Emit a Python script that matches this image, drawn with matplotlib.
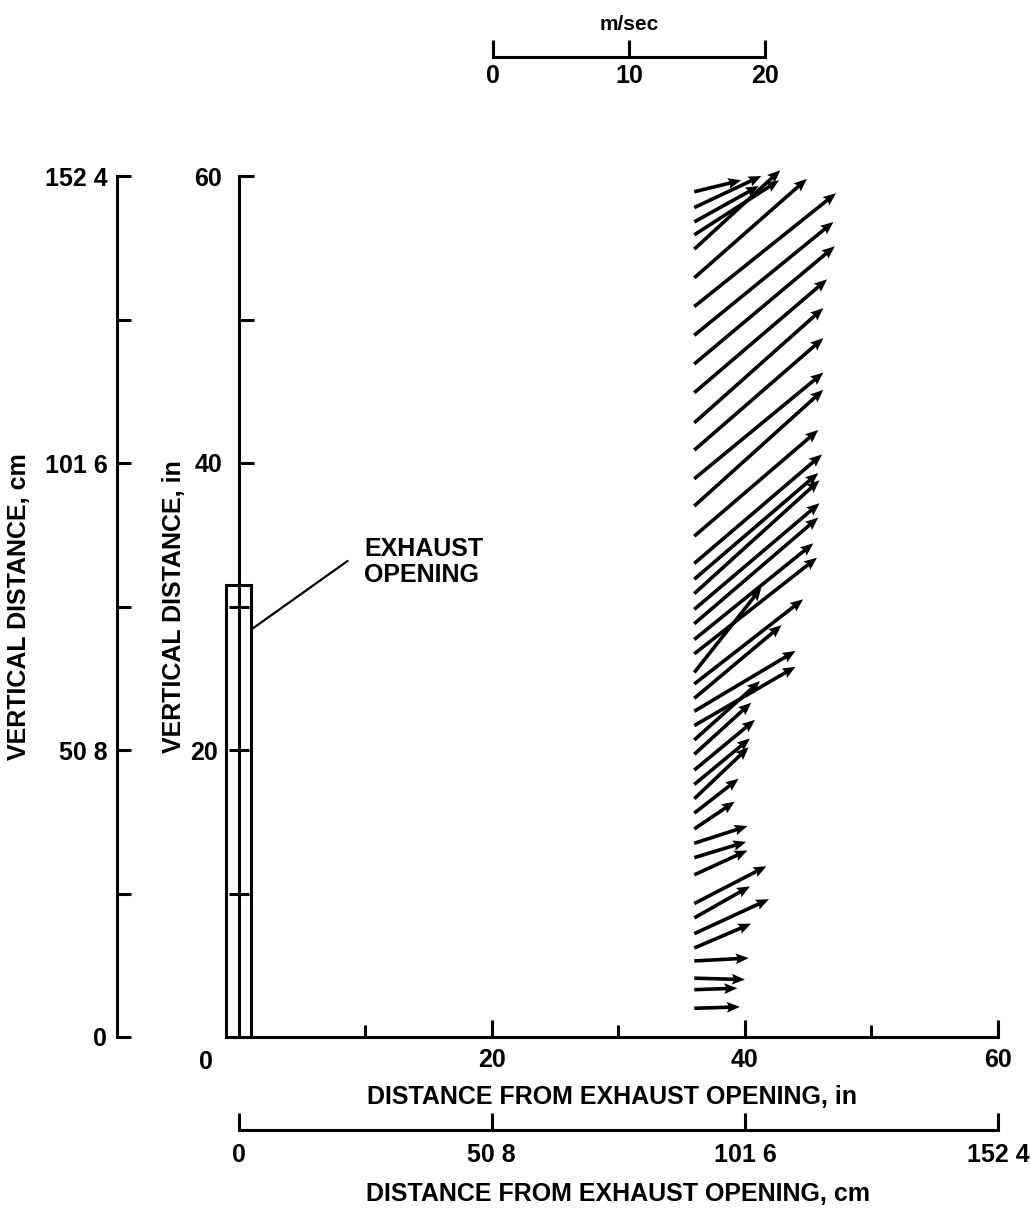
import matplotlib
matplotlib.use("Agg")
import matplotlib.pyplot as plt
from matplotlib.patches import Rectangle

# figure size in pixels (dpi 100)
W, H = 1030, 1219

# velocity vectors: tails sit on the measuring line at x = 36 in,
# heads read off the picture (inches on the plot scales)
tail_x = 36.0
tail_y = [58.9, 57.8, 56.8, 55.9, 54.9, 52.9, 50.9, 48.9, 46.9, 44.9,
          42.8, 40.9, 38.9, 37.0, 34.9, 33.0, 31.9, 30.9, 29.8, 28.8,
          27.7, 26.7, 25.4, 24.6, 23.6, 22.7, 21.7, 20.7, 19.7, 18.6,
          17.6, 16.6, 15.6, 14.5, 13.5, 12.5, 11.3, 9.3, 8.3, 7.2,
          6.2, 5.3, 4.1, 3.3, 2.0]
head_x = [39.7, 41.3, 41.1, 42.7, 42.8, 44.9, 47.2, 47.0, 47.1, 46.5,
          46.2, 46.2, 46.2, 46.2, 45.8, 46.1, 45.8, 45.9, 45.9, 45.8,
          45.4, 45.7, 41.3, 44.6, 42.9, 44.0, 44.0, 41.2, 40.5, 40.8,
          40.4, 40.3, 39.5, 39.2, 40.2, 40.1, 40.2, 41.7, 40.4, 41.9,
          40.5, 40.3, 40.0, 39.4, 39.6]
head_y = [59.7, 60.0, 59.3, 59.7, 60.4, 59.8, 58.8, 56.8, 55.1, 52.8,
          50.8, 48.7, 46.3, 45.1, 42.3, 40.6, 39.3, 38.8, 37.2, 36.2,
          34.4, 33.4, 31.3, 30.5, 28.7, 26.9, 25.8, 24.8, 23.3, 22.1,
          20.8, 20.2, 18.0, 16.4, 14.7, 13.6, 13.0, 11.9, 10.5, 9.6,
          7.9, 5.5, 4.0, 3.4, 2.1]

# exhaust opening outline (inches)
opening_x = [-1.0, 1.0]
opening_top = 31.5

# axis ticks
in_major_y = [40, 50, 60]
in_major_y_labels = ["40", "", "60"]
in_minor_y = [10, 20, 30]
in_minor_y_labels = ["", "20", ""]
in_major_x = [20, 40, 60]
in_minor_x = [10, 30, 50]
cm_ticks = [0, 25.4, 50.8, 76.2, 101.6, 127.0, 152.4]
cm_labels = ["0", "", "50 8", "", "101 6", "", "152 4"]
cm_x_ticks = [0, 50.8, 101.6, 152.4]
cm_x_labels = ["0", "50 8", "101 6", "152 4"]
speed_ticks = [0, 10, 20]

LW = 2.2
FS = 18

plt.rcParams["font.family"] = ["Liberation Sans", "DejaVu Sans"]
plt.rcParams["font.weight"] = "bold"
plt.rcParams["axes.labelweight"] = "bold"
plt.rcParams["axes.titleweight"] = "bold"
plt.rcParams["font.size"] = FS

fig = plt.figure(figsize=(W / 100, H / 100), dpi=100)


def frac(px_left, px_top, px_right, px_bottom):
    return [px_left / W, 1 - px_bottom / H, (px_right - px_left) / W, (px_bottom - px_top) / H]


# ---- main plot (inches) ----
ax = fig.add_axes(frac(226, 176, 998, 1037))
ax.set_xlim(-1, 60)
ax.set_ylim(0, 60)
ax.patch.set_visible(False)
for side in ("top", "right"):
    ax.spines[side].set_visible(False)
ax.spines["left"].set_position(("data", 0))
for side in ("left", "bottom"):
    ax.spines[side].set_linewidth(LW)

ax.set_yticks(in_major_y)
ax.set_yticklabels(in_major_y_labels)
ax.set_yticks(in_minor_y, minor=True)
ax.set_yticklabels(in_minor_y_labels, minor=True)
ax.tick_params(axis="y", which="major", direction="in", length=11, width=LW, pad=12)
ax.tick_params(axis="y", which="minor", direction="inout", length=14, width=LW, pad=8,
               labelsize=FS)

ax.set_xticks(in_major_x)
ax.set_xticks(in_minor_x, minor=True)
ax.tick_params(axis="x", which="major", direction="in", length=12, width=LW, pad=8)
ax.tick_params(axis="x", which="minor", direction="in", length=9, width=LW)
ax.text(-2.6, -0.9, "0", ha="center", va="top", fontsize=FS)

ax.set_xlabel("DISTANCE FROM EXHAUST OPENING, in", fontsize=FS, labelpad=9)
ax.set_ylabel("VERTICAL DISTANCE, in", fontsize=FS, labelpad=3)

ax.add_patch(Rectangle((opening_x[0], 0), opening_x[1] - opening_x[0], opening_top,
                       fill=False, lw=LW, clip_on=False))
ax.annotate("EXHAUST\nOPENING", xy=(opening_x[1], 28.4), xytext=(9.9, 33.1),
            ha="left", va="center", fontsize=FS, linespacing=1.15,
            arrowprops=dict(arrowstyle="-", lw=1.6, shrinkA=12, shrinkB=0,
                            relpos=(0, 0.75)))

u = [hx - tail_x for hx in head_x]
v = [hy - ty for hy, ty in zip(head_y, tail_y)]
ax.quiver([tail_x] * len(tail_y), tail_y, u, v, angles="xy", scale_units="xy", scale=1,
          units="dots", width=3.6, headwidth=3.0, headlength=3.6, headaxislength=3.2,
          color="black", clip_on=False, zorder=3)

# ---- outer vertical scale (cm) ----
ax_cm = fig.add_axes(frac(117, 176, 160, 1037))
ax_cm.set_ylim(0, 152.4)
ax_cm.patch.set_visible(False)
for side in ("top", "right", "bottom"):
    ax_cm.spines[side].set_visible(False)
ax_cm.spines["left"].set_linewidth(LW)
ax_cm.set_xticks([])
ax_cm.set_yticks(cm_ticks)
ax_cm.set_yticklabels(cm_labels)
ax_cm.tick_params(axis="y", direction="in", length=10, width=LW, pad=7)
ax_cm.set_ylabel("VERTICAL DISTANCE, cm", fontsize=FS, labelpad=10)

# ---- lower horizontal scale (cm) ----
ax_cx = fig.add_axes(frac(238.7, 1120, 998, 1130))
ax_cx.set_xlim(0, 152.4)
ax_cx.patch.set_visible(False)
for side in ("top", "right", "left"):
    ax_cx.spines[side].set_visible(False)
ax_cx.spines["bottom"].set_linewidth(LW)
ax_cx.set_yticks([])
ax_cx.set_xticks(cm_x_ticks)
ax_cx.set_xticklabels(cm_x_labels)
ax_cx.tick_params(axis="x", direction="in", length=12, width=LW, pad=9)
ax_cx.set_xlabel("DISTANCE FROM EXHAUST OPENING, cm", fontsize=FS, labelpad=11)

# ---- velocity scale bar ----
ax_v = fig.add_axes(frac(493, 47, 765, 57))
ax_v.set_xlim(0, 20)
ax_v.patch.set_visible(False)
for side in ("top", "right", "left"):
    ax_v.spines[side].set_visible(False)
ax_v.spines["bottom"].set_linewidth(LW)
ax_v.set_yticks([])
ax_v.set_xticks(speed_ticks)
ax_v.tick_params(axis="x", direction="in", length=12, width=LW, pad=5)
ax_v.set_title("m/sec", fontsize=15, pad=12)

fig.savefig("out.png", dpi=100)
